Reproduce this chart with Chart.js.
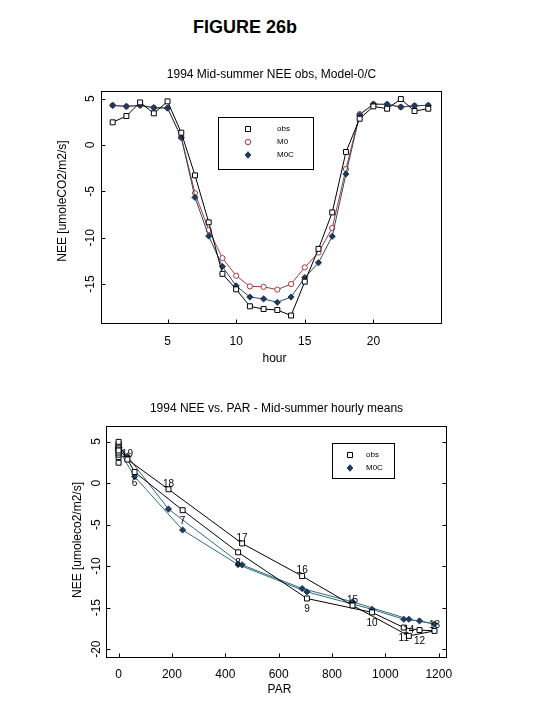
<!DOCTYPE html>
<html><head><meta charset="utf-8">
<script src="https://cdn.jsdelivr.net/npm/chart.js@4.4.0/dist/chart.umd.min.js"></script>
<style>
html,body{margin:0;padding:0;background:#fff;width:540px;height:720px;overflow:hidden;}
#fig{position:absolute;left:0;top:17px;width:490px;text-align:center;font:bold 18px "Liberation Sans",Arial,sans-serif;color:#000;line-height:normal;}
.c{position:absolute;left:0;width:540px;}
</style></head><body>
<div id="fig">FIGURE 26b</div>
<div class="c" style="top:0;height:380px"><canvas id="c1"></canvas></div>
<div class="c" style="top:380px;height:340px"><canvas id="c2"></canvas></div>
<script>
// ---- data ----
const hours = [1,2,3,4,5,6,7,8,9,10,11,12,13,14,15,16,17,18,19,20,21,22,23,24];
const obsNEE = [2.45,3.13,4.60,3.42,4.71,1.33,-3.27,-8.34,-13.9,-15.57,-17.4,-17.7,-17.8,-18.4,-14.74,-11.2,-7.27,-0.75,2.84,4.17,3.92,4.96,3.67,3.92];
const m0NEE = [4.28,4.17,4.28,4.03,3.99,0.85,-5.2,-9.17,-12.2,-14.1,-15.25,-15.3,-15.6,-15.0,-13.2,-11.6,-8.95,-2.6,3.34,4.40,4.39,4.10,4.24,4.28];
const mocNEE = [4.28,4.17,4.28,4.03,3.99,0.79,-5.65,-9.82,-13.1,-15.2,-16.4,-16.6,-16.97,-16.4,-14.3,-12.7,-9.85,-3.13,3.24,4.42,4.39,4.10,4.24,4.28];
const parMeans = [0,0,0,0,0,60,240,448,706,950,1069,1128,1184,1088,877,688,463,187,33,0,0,0,0,0];
const hourLabels = ['','','','','','6','7','8','9','10','11','12','13','14','15','16','17','18','19','','','','',''];
const hourTicks = [5,10,15,20];
const neeTicks1 = [5,0,-5,-10,-15];
const parTicks = [0,200,400,600,800,1000,1200];
const neeTicks2 = [5,0,-5,-10,-15,-20];

const FONT = '"Liberation Sans", Arial, Helvetica, sans-serif';

function drawSym(ctx, style, x, y, r, fill, stroke) {
  ctx.beginPath();
  if (style === 'rect') {
    const s = Math.SQRT1_2 * r;
    ctx.rect(x - s, y - s, 2 * s, 2 * s);
  } else if (style === 'rectRot') {
    ctx.moveTo(x, y - r); ctx.lineTo(x + r * 0.85, y); ctx.lineTo(x, y + r); ctx.lineTo(x - r * 0.85, y); ctx.closePath();
  } else {
    ctx.arc(x, y, r, 0, Math.PI * 2);
  }
  ctx.fillStyle = fill; ctx.fill();
  ctx.lineWidth = 1; ctx.strokeStyle = stroke; ctx.stroke();
}

const framePlugin = {
  id: 'frame',
  afterDraw(chart, args, o) {
    const {ctx, chartArea: a, scales: {x, y}} = chart;
    ctx.save();
    ctx.strokeStyle = '#000'; ctx.lineWidth = 1;
    const L = Math.round(a.left) + 0.5, R = Math.round(a.right) - 0.5, T = Math.round(a.top) + 0.5, B = Math.round(a.bottom) - 0.5;
    ctx.strokeRect(L, T, R - L, B - T);
    ctx.beginPath();
    o.xTicks.forEach(v => { const px = Math.round(x.getPixelForValue(v)) + 0.5; ctx.moveTo(px, B); ctx.lineTo(px, B - o.tick); });
    o.yTicks.forEach(v => {
      const py = Math.round(y.getPixelForValue(v)) + 0.5;
      ctx.moveTo(L, py); ctx.lineTo(L + o.tick, py);
      if (o.rightTicks) { ctx.moveTo(R, py); ctx.lineTo(R - o.tick, py); }
    });
    ctx.stroke();
    ctx.fillStyle = '#000';
    ctx.font = '12px ' + FONT;
    ctx.textAlign = 'center'; ctx.textBaseline = 'alphabetic';
    o.xTicks.forEach(v => ctx.fillText(String(v), x.getPixelForValue(v), a.bottom + o.xTickOff));
    ctx.fillText(o.xTitle, (a.left + a.right) / 2 + o.xTitleDx, a.bottom + o.xTitleOff);
    o.yTicks.forEach(v => {
      ctx.save(); ctx.translate(a.left - o.yTickOff, y.getPixelForValue(v)); ctx.rotate(-Math.PI / 2);
      ctx.textBaseline = 'middle'; ctx.fillText(String(v), 0, 0); ctx.restore();
    });
    ctx.save(); ctx.translate(o.yTitleX, o.yTitleY); ctx.rotate(-Math.PI / 2);
    ctx.textBaseline = 'middle'; ctx.fillText(o.yTitle, 0, 0); ctx.restore();
    // legend box
    const lg = o.legend;
    ctx.strokeStyle = '#000';
    ctx.strokeRect(lg.box[0] + 0.5, lg.box[1] + 0.5, lg.box[2] - lg.box[0], lg.box[3] - lg.box[1]);
    lg.items.forEach((it, i) => {
      const yy = lg.rows[i];
      drawSym(ctx, it.style, lg.symX, yy, it.r, it.fill, it.stroke);
      ctx.fillStyle = '#000'; ctx.font = '8px ' + FONT; ctx.textAlign = 'left'; ctx.textBaseline = 'middle';
      ctx.fillText(it.label, lg.textX, yy);
    });
    ctx.restore();
  }
};

const hourLabelPlugin = {
  id: 'hourLabels',
  afterDatasetsDraw(chart) {
    const {ctx, scales: {x, y}} = chart;
    ctx.save();
    ctx.fillStyle = '#000'; ctx.font = '10px ' + FONT; ctx.textAlign = 'center'; ctx.textBaseline = 'middle';
    hours.forEach((h, i) => {
      if (!hourLabels[i]) return;
      const px = x.getPixelForValue(parMeans[i]);
      const py = y.getPixelForValue(obsNEE[i]) + (h <= 12 ? 11 : -5.5);
      ctx.fillText(hourLabels[i], px, py);
    });
    ctx.restore();
  }
};

const OBS_COL = '#000000', M0_COL = '#A8383A', MOC_PT = '#1E3A5C';

new Chart(document.getElementById('c1'), {
  type: 'line',
  data: {
    datasets: [
      { label: 'obs', data: hours.map((h, i) => ({x: h, y: obsNEE[i]})), borderColor: OBS_COL, borderWidth: 1,
        pointStyle: 'rect', pointRadius: 3.5, pointBackgroundColor: '#fff', pointBorderColor: OBS_COL, pointBorderWidth: 1 },
      { label: 'M0C', data: hours.map((h, i) => ({x: h, y: mocNEE[i]})), borderColor: '#2B4A66', borderWidth: 1,
        pointStyle: 'rectRot', pointRadius: 3.1, pointBackgroundColor: MOC_PT, pointBorderColor: MOC_PT, pointBorderWidth: 1 },
      { label: 'M0', data: hours.map((h, i) => ({x: h, y: m0NEE[i]})), borderColor: M0_COL, borderWidth: 1,
        pointStyle: 'circle', pointRadius: 2.6, pointBackgroundColor: '#fff', pointBorderColor: M0_COL, pointBorderWidth: 1 }
    ]
  },
  plugins: [framePlugin],
  options: {
    responsive: true, maintainAspectRatio: false, animation: false, events: [],
    layout: { padding: { left: 101, right: 98, top: 57.8, bottom: 56 } },
    scales: {
      x: { type: 'linear', min: 0.15, max: 25.0, display: false },
      y: { type: 'linear', min: -19.31, max: 5.83, display: false }
    },
    plugins: {
      legend: { display: false }, tooltip: { enabled: false },
      title: { display: true, text: '1994 Mid-summer NEE obs, Model-0/C', color: '#000',
        font: { family: FONT, size: 12, weight: 'normal', lineHeight: 1.2 }, padding: { top: 10, bottom: 8.8 } },
      frame: {
        xTicks: hourTicks, yTicks: neeTicks1, tick: 4, rightTicks: false,
        xTickOff: 21, xTitle: 'hour', xTitleOff: 38, xTitleDx: 3,
        yTickOff: 10.5, yTitle: 'NEE [umoleCO2/m2/s]', yTitleX: 63, yTitleY: 201,
        legend: { box: [218, 117, 313, 169], symX: 248, textX: 277, rows: [129, 142, 155],
          items: [
            { label: 'obs', style: 'rect', r: 3.6, fill: '#fff', stroke: OBS_COL },
            { label: 'M0', style: 'circle', r: 2.7, fill: '#fff', stroke: M0_COL },
            { label: 'M0C', style: 'rectRot', r: 3.3, fill: MOC_PT, stroke: MOC_PT }
          ] }
      }
    }
  }
});

new Chart(document.getElementById('c2'), {
  type: 'line',
  data: {
    datasets: [
      { label: 'obs', data: hours.map((h, i) => ({x: parMeans[i], y: obsNEE[i]})), borderColor: OBS_COL, borderWidth: 1,
        pointStyle: 'rect', pointRadius: 3.5, pointBackgroundColor: '#fff', pointBorderColor: OBS_COL, pointBorderWidth: 1 },
      { label: 'M0C', data: hours.map((h, i) => ({x: parMeans[i], y: mocNEE[i]})), borderColor: '#2F6B7C', borderWidth: 1,
        pointStyle: 'rectRot', pointRadius: 3.1, pointBackgroundColor: MOC_PT, pointBorderColor: MOC_PT, pointBorderWidth: 1 }
    ]
  },
  plugins: [framePlugin, hourLabelPlugin],
  options: {
    responsive: true, maintainAspectRatio: false, animation: false, events: [],
    layout: { padding: { left: 106, right: 93, top: 11.8, bottom: 61.7 } },
    scales: {
      x: { type: 'linear', min: -47.2, max: 1231, display: false },
      y: { type: 'linear', min: -21.1, max: 6.87, display: false }
    },
    plugins: {
      legend: { display: false }, tooltip: { enabled: false },
      title: { display: true, text: '1994 NEE vs. PAR - Mid-summer hourly means', color: '#000',
        font: { family: FONT, size: 12, weight: 'normal', lineHeight: 1.2 }, padding: { top: 10, bottom: 9.8 } },
      frame: {
        xTicks: parTicks, yTicks: neeTicks2, tick: 4, rightTicks: true,
        xTickOff: 20, xTitle: 'PAR', xTitleOff: 35, xTitleDx: 3,
        yTickOff: 9.5, yTitle: 'NEE [umoleco2/m2/s]', yTitleX: 78, yTitleY: 160,
        legend: { box: [332, 63, 394, 98], symX: 350, textX: 366, rows: [75, 88],
          items: [
            { label: 'obs', style: 'rect', r: 3.6, fill: '#fff', stroke: OBS_COL },
            { label: 'M0C', style: 'rectRot', r: 3.3, fill: MOC_PT, stroke: MOC_PT }
          ] }
      }
    }
  }
});
</script>
</body></html>
